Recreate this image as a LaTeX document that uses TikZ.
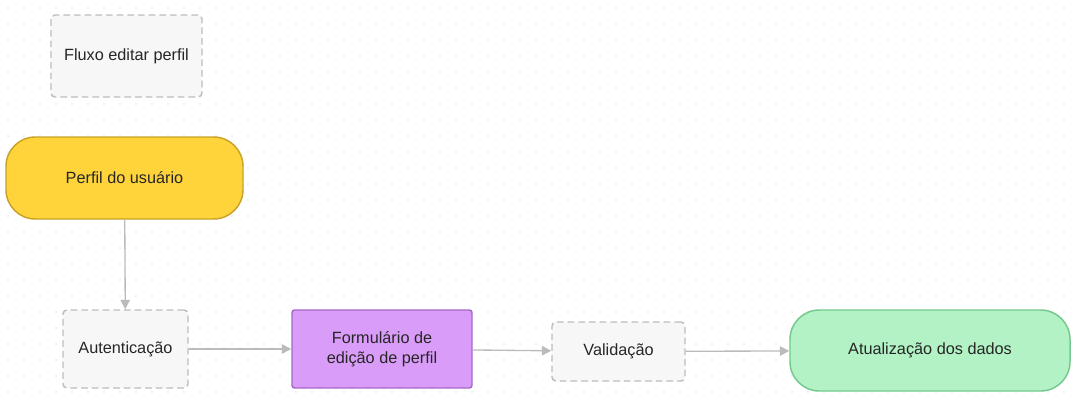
\documentclass[tikz,border=0pt]{standalone}
\usepackage{fontspec}
\setmainfont{Liberation Sans}
\usetikzlibrary{arrows.meta}
\definecolor{dotgray}{HTML}{E0E0E0}
\definecolor{boxgray}{HTML}{F7F7F7}
\definecolor{dashgray}{HTML}{BDBDBD}
\definecolor{arrowgray}{HTML}{BBBBBB}
\definecolor{yellowfill}{HTML}{FFD43B}
\definecolor{yellowdraw}{HTML}{C9A227}
\definecolor{purplefill}{HTML}{D99CF8}
\definecolor{purpledraw}{HTML}{A768C6}
\definecolor{greenfill}{HTML}{B2F2C5}
\definecolor{greendraw}{HTML}{74C98E}
\begin{document}
\begin{tikzpicture}
      [%%%%%%%%%%%%%%%%%%%%%%%%%%%%%%
          x=0.75pt, y=-0.75pt,
          every node/.style={font=\fontsize{12.2}{15}\selectfont, text=black!85, align=center},
          dashbox/.style={rectangle, draw=dashgray, line width=1.1pt, dash pattern=on 5pt off 3pt, fill=boxgray, rounded corners=3pt},
          pill/.style={rectangle, line width=1.1pt, rounded corners=22pt},
          flowarrow/.style={draw=arrowgray, line width=1pt, -{Triangle[length=7pt,width=7pt]}}
      ]%%%%%%%%%%%%%%%%%%%%%%%%%%%%%%

  \useasboundingbox[fill=white] (0,0) rectangle (1073,400);

  \foreach \x in {8,24,...,1072}{
      \foreach \y in {8,24,...,400}
          \fill[dotgray] (\x,\y) circle (0.6pt);
  }

  \node[dashbox, minimum width=113.25pt, minimum height=61.5pt] (title) at (126.5,56) {Fluxo editar perfil};

  \node[pill, draw=yellowdraw, fill=yellowfill, minimum width=177.75pt, minimum height=61.5pt] (perfil) at (124.5,178) {Perfil do usuário};

  \node[dashbox, minimum width=93.75pt, minimum height=58.5pt] (auth) at (125.5,349) {Autenticação};

  \node[rectangle, draw=purpledraw, fill=purplefill, line width=1.1pt, rounded corners=2pt, minimum width=135pt, minimum height=58.5pt] (form) at (382,349) {Formulário de\\edição de perfil};

  \node[dashbox, minimum width=99.75pt, minimum height=44.25pt] (valid) at (618.5,351.5) {Validação};

  \node[pill, draw=greendraw, fill=greenfill, minimum width=210pt, minimum height=60.75pt] (update) at (930,350.5) {Atualização dos dados};

  \draw[flowarrow] (perfil) -- (auth);
  \draw[flowarrow] (auth) -- (form);
  \draw[flowarrow] (form) -- (valid);
  \draw[flowarrow] (valid) -- (update);

  \end{tikzpicture}
\end{document}
